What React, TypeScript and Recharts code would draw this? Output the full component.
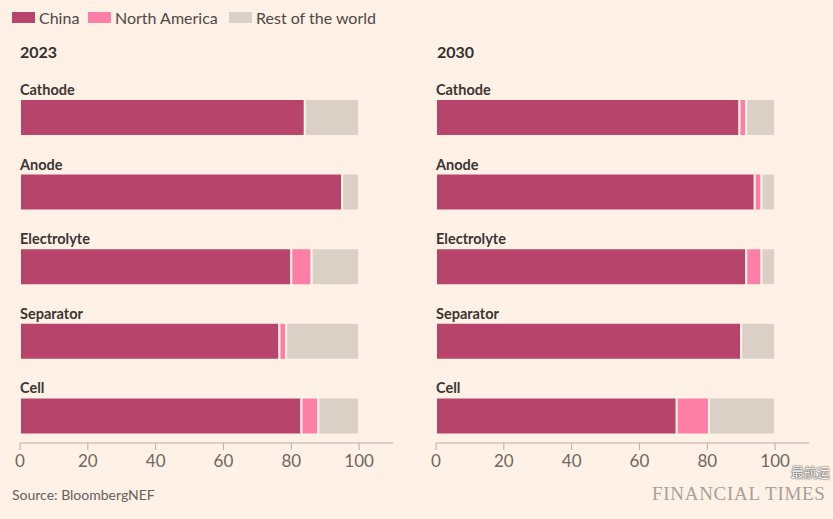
import { Bar, BarChart, LabelList, XAxis, YAxis } from 'recharts'

const categories = ['Cathode', 'Anode', 'Electrolyte', 'Separator', 'Cell']
const china2023 = [84, 95, 80, 76.5, 83]
const northAmerica2023 = [0, 0, 6, 2, 5]
const rest2023 = [16, 5, 14, 21.5, 12]
const china2030 = [89.5, 94, 91.5, 90, 71]
const northAmerica2030 = [2, 2, 4.5, 0, 9.5]
const rest2030 = [8.5, 4, 4, 10, 19.5]
const ticks = [0, 20, 40, 60, 80, 100]

const BG = '#fff1e5'
const CHINA = '#b7446a'
const NA = '#fd7fa8'
const REST = '#dbd0c6'
const font = 'Lato, "Open Sans", sans-serif'

function buildRows(china: number[], na: number[], rest: number[]) {
  return categories.map((name, i) => ({ name, china: china[i], na: na[i], rest: rest[i] }))
}

function CategoryLabel(props: any) {
  const { x, y, value } = props
  return (
    <text x={x} y={y - 4} fontSize={14.5} fontWeight={700} fill="#3a3532" fontFamily={font}>
      {value}
    </text>
  )
}

function Panel({ rows, left }: { rows: any[]; left: number }) {
  return (
    <div style={{ position: 'absolute', left, top: 0 }}>
      <BarChart
        width={410}
        height={519}
        data={rows}
        layout="vertical"
        margin={{ top: 80, right: 17, left: 20, bottom: 46 }}
      >
        <XAxis
          type="number"
          domain={[0, 110]}
          ticks={ticks}
          height={30}
          tickSize={7}
          tickMargin={5}
          tick={{ fontSize: 17, fill: '#6f6761', fontFamily: font }}
          stroke="#b8aea6"
          allowDataOverflow
        />
        <YAxis type="category" dataKey="name" width={0} hide padding={{ top: 0, bottom: -10 }} />
        <Bar dataKey="china" stackId="a" fill={CHINA} stroke={BG} strokeWidth={2} barSize={37} isAnimationActive={false}>
          <LabelList dataKey="name" content={<CategoryLabel />} />
        </Bar>
        <Bar dataKey="na" stackId="a" fill={NA} stroke={BG} strokeWidth={2} barSize={37} isAnimationActive={false} />
        <Bar dataKey="rest" stackId="a" fill={REST} stroke={BG} strokeWidth={2} barSize={37} isAnimationActive={false} />
      </BarChart>
    </div>
  )
}

function Swatch({ color, label, x }: { color: string; label: string; x: number }) {
  return (
    <div style={{ position: 'absolute', left: x, top: 8, display: 'flex', alignItems: 'center' }}>
      <div style={{ width: 23, height: 11, background: color, marginRight: 4 }} />
      <span style={{ fontSize: 16, color: '#4d4845', fontFamily: font }}>{label}</span>
    </div>
  )
}

export default function App() {
  const rows2023 = buildRows(china2023, northAmerica2023, rest2023)
  const rows2030 = buildRows(china2030, northAmerica2030, rest2030)
  return (
    <div style={{ position: 'fixed', left: 0, top: 0, width: 833, height: 519, background: BG, overflow: 'hidden', fontFamily: font }}>
      <Swatch color={CHINA} label="China" x={12} />
      <Swatch color={NA} label="North America" x={88} />
      <Swatch color={REST} label="Rest of the world" x={229} />
      <div style={{ position: 'absolute', left: 20, top: 42, fontSize: 16, fontWeight: 700, color: '#33302e' }}>2023</div>
      <div style={{ position: 'absolute', left: 437, top: 42, fontSize: 16, fontWeight: 700, color: '#33302e' }}>2030</div>
      <Panel rows={rows2023} left={0} />
      <Panel rows={rows2030} left={416} />
      <div style={{ position: 'absolute', left: 12, top: 486, fontSize: 14, color: '#66605c' }}>Source: BloombergNEF</div>
      <div
        style={{
          position: 'absolute',
          left: 652,
          top: 483,
          fontSize: 19,
          lineHeight: '22px',
          fontFamily: '"Liberation Serif", serif',
          color: '#a8a098',
          letterSpacing: 0.7,
          whiteSpace: 'nowrap',
        }}
      >
        FINANCIAL TIMES
      </div>
      <div
        style={{
          position: 'absolute',
          left: 791,
          top: 463,
          fontSize: 13,
          lineHeight: '18px',
          fontFamily: '"Noto Sans CJK SC", sans-serif',
          color: '#ffffff',
          textShadow: '0 0 2px #333, 0 0 1px #333',
          whiteSpace: 'nowrap',
        }}
      >
        最航运
      </div>
    </div>
  )
}
